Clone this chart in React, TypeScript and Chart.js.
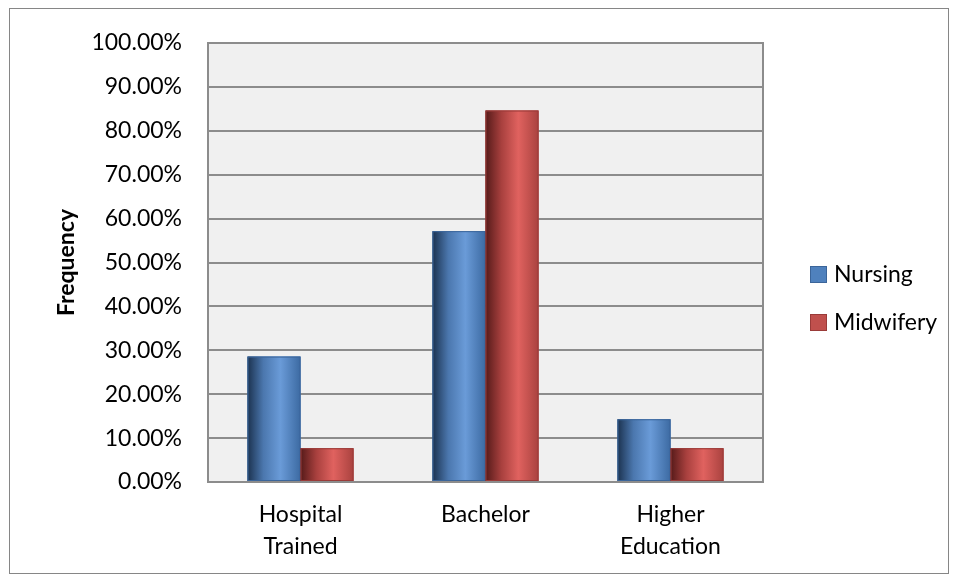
import React, { useEffect, useRef } from "react";
import { Chart, registerables } from "chart.js";

Chart.register(...registerables);

// Qualification level of respondents, share per programme (%)
const categories: (string | string[])[] = [["Hospital", "Trained"], "Bachelor", ["Higher", "Education"]];
const nursing = [28.57, 57.14, 14.29];
const midwifery = [7.69, 84.62, 7.69];
const seriesNames = ["Nursing", "Midwifery"];
const yMax = 100;
const yStep = 10;
const yTitle = "Frequency";

const FONT = "Lato, 'Open Sans', sans-serif";
const FONT_SIZE = 23;

// Cylinder-like horizontal shading for each series
const shades = [
  { solid: "#4f81bd", edge: "#3b659a", stops: ["#1b324f", "#4b77ae", "#6a9bd8", "#3c6aa2"] },
  { solid: "#c0504d", edge: "#9a3b39", stops: ["#551a19", "#a8403e", "#e0625f", "#a9423f"] },
];

const plotFrame = {
  id: "plotFrame",
  beforeDraw(chart: any) {
    const { ctx, chartArea: a } = chart;
    ctx.save();
    ctx.fillStyle = "#f0f0f0";
    ctx.fillRect(a.left, a.top, a.right - a.left, a.bottom - a.top);
    ctx.restore();
  },
  afterDraw(chart: any) {
    const { ctx, chartArea: a } = chart;
    ctx.save();
    ctx.strokeStyle = "#8c8c8c";
    ctx.lineWidth = 2;
    ctx.strokeRect(a.left, a.top, a.right - a.left, a.bottom - a.top);
    ctx.restore();
  },
};

const shadedBars = {
  id: "shadedBars",
  afterDatasetsDraw(chart: any) {
    const { ctx } = chart;
    chart.data.datasets.forEach((_: any, di: number) => {
      const meta = chart.getDatasetMeta(di);
      const s = shades[di];
      meta.data.forEach((el: any) => {
        const { x, y, base, width } = el.getProps(["x", "y", "base", "width"], true);
        const left = x - width / 2;
        const g = ctx.createLinearGradient(left, 0, left + width, 0);
        g.addColorStop(0, s.stops[0]);
        g.addColorStop(0.3, s.stops[1]);
        g.addColorStop(0.62, s.stops[2]);
        g.addColorStop(1, s.stops[3]);
        ctx.save();
        ctx.fillStyle = g;
        ctx.fillRect(left, y, width, base - y);
        ctx.strokeStyle = s.edge;
        ctx.lineWidth = 1;
        ctx.strokeRect(left + 0.5, y + 0.5, width - 1, base - y - 1);
        ctx.restore();
      });
    });
  },
};

const sideLegend = {
  id: "sideLegend",
  afterDraw(chart: any) {
    const { ctx } = chart;
    const boxX = 810;
    const rows = [274, 322];
    ctx.save();
    ctx.font = `${FONT_SIZE}px ${FONT}`;
    ctx.textBaseline = "middle";
    chart.data.datasets.forEach((ds: any, i: number) => {
      const cy = rows[i];
      ctx.fillStyle = shades[i].solid;
      ctx.fillRect(boxX, cy - 8, 17, 17);
      ctx.strokeStyle = shades[i].edge;
      ctx.lineWidth = 1;
      ctx.strokeRect(boxX + 0.5, cy - 7.5, 16, 16);
      ctx.fillStyle = "#000";
      ctx.fillText(ds.label, boxX + 24, cy + 1);
    });
    ctx.restore();
  },
};

export default function App() {
  const ref = useRef<HTMLCanvasElement | null>(null);

  useEffect(() => {
    if (!ref.current) return;
    const chart = new Chart(ref.current, {
      type: "bar",
      data: {
        labels: categories,
        datasets: [
          { label: seriesNames[0], data: nursing, backgroundColor: shades[0].solid },
          { label: seriesNames[1], data: midwifery, backgroundColor: shades[1].solid },
        ],
      },
      plugins: [plotFrame, shadedBars, sideLegend],
      options: {
        responsive: false,
        animation: false,
        layout: { padding: { top: 43, right: 195, bottom: 0, left: 0 } },
        datasets: {
          bar: { barPercentage: 1, categoryPercentage: 0.573 },
        },
        plugins: {
          legend: { display: false },
          tooltip: { enabled: false },
        },
        scales: {
          x: {
            grid: { display: false, drawTicks: false },
            border: { display: false },
            ticks: {
              color: "#000",
              font: { family: FONT, size: FONT_SIZE, lineHeight: 1.38 },
              padding: 17,
              maxRotation: 0,
            },
            afterFit(scale: any) {
              scale.height = 581 - 482;
            },
          },
          y: {
            min: 0,
            max: yMax,
            grid: { color: "#8c8c8c", lineWidth: 2, drawTicks: false },
            border: { display: false },
            ticks: {
              stepSize: yStep,
              color: "#000",
              font: { family: FONT, size: FONT_SIZE },
              padding: 26,
              callback: (v: any) => Number(v).toFixed(2) + "%",
            },
            title: {
              display: true,
              text: yTitle,
              color: "#000",
              font: { family: FONT, size: FONT_SIZE, weight: "bold", lineHeight: 1.2 },
              padding: { top: 53, bottom: 0 },
            },
            afterFit(scale: any) {
              scale.width = 208;
            },
          },
        },
      },
    });
    return () => chart.destroy();
  }, []);

  return (
    <div style={{ position: "fixed", left: 0, top: 0, width: 958, height: 581, background: "#fff" }}>
      <canvas ref={ref} width={958} height={581} style={{ display: "block" }} />
      <div
        style={{
          position: "absolute",
          left: 9,
          top: 8,
          width: 938,
          height: 564,
          border: "1px solid #868686",
          pointerEvents: "none",
        }}
      />
    </div>
  );
}
